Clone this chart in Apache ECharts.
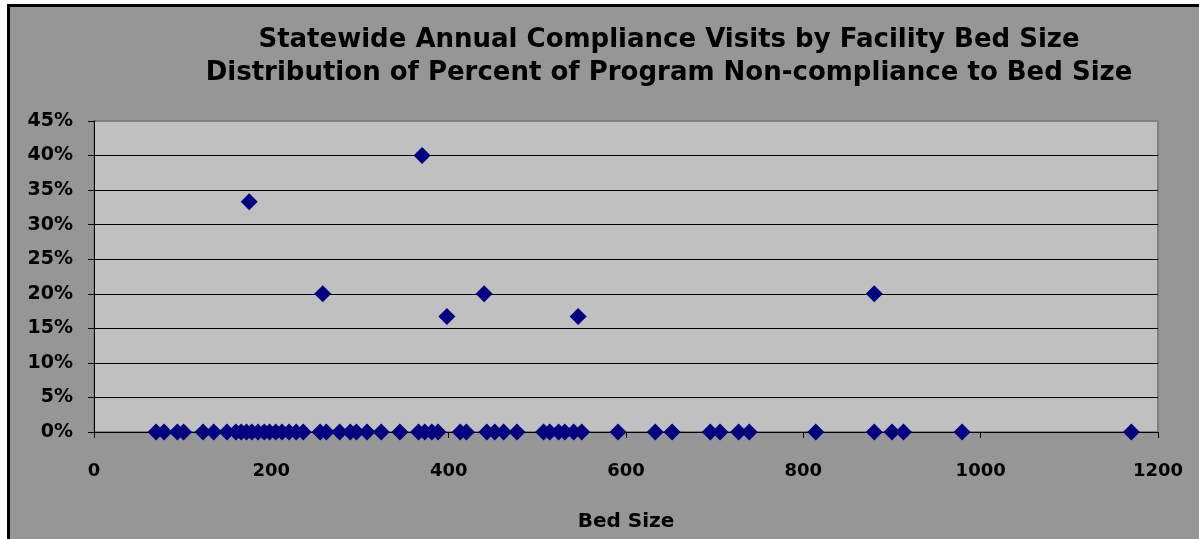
<!DOCTYPE html>
<html>
<head>
<meta charset="utf-8">
<script src="https://cdn.jsdelivr.net/npm/echarts@6/dist/echarts.min.js"></script>
<style>
  html, body { margin: 0; padding: 0; background: #ffffff; }
  #frame { position: absolute; left: 7px; top: 4px; width: 1300px; height: 700px;
           background: #969696; border-left: 3px solid #000; border-top: 3px solid #000; }
  #chart { position: absolute; left: 0; top: 0; width: 1199px; height: 539px; }
  body { width: 1199px; height: 539px; overflow: hidden; position: relative; }
</style>
</head>
<body>
<div id="frame"></div>
<div id="chart"></div>
<script>
// Bed size (x) and percent of program non-compliance (y, %)
const bedSizes = [175, 370, 258, 398, 440, 546, 880,
  70, 79, 94, 101, 123, 135, 150, 160, 166, 172, 178, 185, 192, 198, 205, 212, 220,
  228, 236, 255, 262, 277, 289, 296, 308, 324, 345, 366, 373, 381, 388, 413, 420,
  443, 452, 462, 477, 507, 514, 524, 531, 541, 550, 591, 633, 652, 695, 706, 727,
  739, 814, 880, 900, 913, 979, 1170];
const pctValues = [33.3, 40, 20, 16.7, 20, 16.7, 20,
  0, 0, 0, 0, 0, 0, 0, 0, 0, 0, 0, 0, 0, 0, 0, 0, 0,
  0, 0, 0, 0, 0, 0, 0, 0, 0, 0, 0, 0, 0, 0, 0, 0,
  0, 0, 0, 0, 0, 0, 0, 0, 0, 0, 0, 0, 0, 0, 0, 0,
  0, 0, 0, 0, 0, 0, 0];
const titleLines = ['Statewide Annual Compliance Visits by Facility Bed Size',
                    'Distribution of Percent of Program Non-compliance to Bed Size'];
const xAxisTitle = 'Bed Size';

const points = bedSizes.map((b, i) => [b, pctValues[i]]);
const FONT = 'DejaVu Sans';

const chart = echarts.init(document.getElementById('chart'), null, {renderer: 'canvas'});
chart.setOption({
  animation: false,
  backgroundColor: 'transparent',
  graphic: [
    { type: 'text', position: [669, 40], style: { text: titleLines[0], textAlign: 'center', textVerticalAlign: 'middle',
      font: 'bold 26px "' + FONT + '"', fill: '#000' } },
    { type: 'text', position: [669, 73], style: { text: titleLines[1], textAlign: 'center', textVerticalAlign: 'middle',
      font: 'bold 26px "' + FONT + '"', fill: '#000' } }
  ],
  grid: { left: 94, right: 41, top: 121, bottom: 107, show: true,
          backgroundColor: '#C0C0C0', borderColor: '#808080', borderWidth: 2 },
  xAxis: {
    type: 'value', min: 0, max: 1200, interval: 200,
    name: xAxisTitle, nameLocation: 'middle', nameGap: 80,
    nameTextStyle: { fontFamily: FONT, fontWeight: 'bold', fontSize: 20, color: '#000' },
    axisLine: { show: true, lineStyle: { color: '#000', width: 1 } },
    axisTick: { show: true, inside: false, length: 6, lineStyle: { color: '#000' } },
    axisLabel: { margin: 30, formatter: v => String(v), fontFamily: FONT, fontWeight: 'bold', fontSize: 18, color: '#000' },
    splitLine: { show: false }
  },
  yAxis: {
    type: 'value', min: 0, max: 45, interval: 5,
    axisLine: { show: true, lineStyle: { color: '#000', width: 1 } },
    axisTick: { show: true, inside: false, length: 6, lineStyle: { color: '#000' } },
    axisLabel: { margin: 21, formatter: '{value}%', fontFamily: FONT, fontWeight: 'bold', fontSize: 19, color: '#000' },
    splitLine: { show: true, lineStyle: { color: ['#000','#000','#000','#000','#000','#000','#000','#000','#000','#808080'], width: 1 } }
  },
  series: [{
    type: 'scatter',
    data: points,
    symbol: 'diamond',
    symbolSize: [17, 17],
    itemStyle: { color: '#000080', opacity: 1 }
  }]
});
</script>
</body>
</html>
